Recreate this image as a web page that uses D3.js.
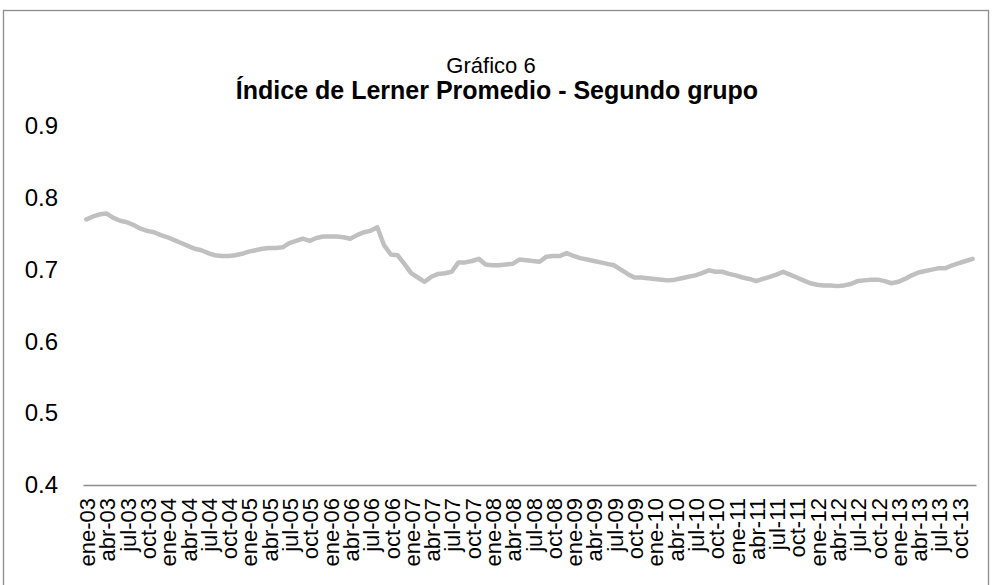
<!DOCTYPE html>
<html>
<head>
<meta charset="utf-8">
<script src="https://cdn.jsdelivr.net/npm/d3@7"></script>
<style>
  body { margin: 0; background: #fff; }
  svg { display: block; font-family: "Liberation Sans", Arial, sans-serif; }
</style>
</head>
<body>
<div id="chart"></div>
<script>
// month abbreviations and years used for the category axis
var monthNames = ["ene", "feb", "mar", "abr", "may", "jun", "jul", "ago", "sep", "oct", "nov", "dic"];
var years = ["03", "04", "05", "06", "07", "08", "09", "10", "11", "12", "13"];
var yTicks = [0.4, 0.5, 0.6, 0.7, 0.8, 0.9];

// Índice de Lerner promedio, ene-03 .. dic-13
var lerner = [
  0.770, 0.774, 0.777, 0.778, 0.772, 0.768, 0.766, 0.762, 0.757, 0.754, 0.752, 0.748,
  0.745, 0.741, 0.737, 0.733, 0.729, 0.727, 0.723, 0.720, 0.719, 0.719, 0.720, 0.722,
  0.725, 0.727, 0.729, 0.730, 0.730, 0.731, 0.737, 0.740, 0.743, 0.740, 0.744, 0.746,
  0.746, 0.746, 0.745, 0.743, 0.748, 0.752, 0.754, 0.759, 0.734, 0.721, 0.720, 0.708,
  0.695, 0.689, 0.683, 0.690, 0.694, 0.695, 0.697, 0.710, 0.710, 0.712, 0.715, 0.707,
  0.706, 0.706, 0.707, 0.708, 0.714, 0.713, 0.712, 0.711, 0.718, 0.719, 0.719, 0.723,
  0.719, 0.716, 0.714, 0.712, 0.710, 0.708, 0.706, 0.700, 0.694, 0.689, 0.689, 0.688,
  0.687, 0.686, 0.685, 0.686, 0.688, 0.690, 0.692, 0.695, 0.699, 0.697, 0.697, 0.694,
  0.692, 0.689, 0.687, 0.684, 0.687, 0.690, 0.693, 0.697, 0.693, 0.689, 0.685, 0.681,
  0.679, 0.678, 0.678, 0.677, 0.678, 0.680, 0.684, 0.685, 0.686, 0.686, 0.684, 0.681,
  0.683, 0.687, 0.692, 0.696, 0.698, 0.700, 0.702, 0.702, 0.706, 0.709, 0.712, 0.715
];

var categories = [];
years.forEach(function (yr) {
  monthNames.forEach(function (m) { categories.push(m + "-" + yr); });
});

var width = 992, height = 585;
var plot = { left: 83, right: 976, top: 126, bottom: 485 };

var svg = d3.select("#chart").append("svg")
  .attr("width", width)
  .attr("height", height);

// outer frame
svg.append("rect")
  .attr("x", 3.5).attr("y", 10.5)
  .attr("width", 985).attr("height", 600)
  .attr("fill", "none")
  .attr("stroke", "#8c8c8c")
  .attr("stroke-width", 1.3);

// titles
svg.append("text")
  .attr("x", 491).attr("y", 73)
  .attr("text-anchor", "middle")
  .attr("font-size", "22px")
  .attr("fill", "#000")
  .text("Gráfico 6");

svg.append("text")
  .attr("x", 497).attr("y", 99)
  .attr("text-anchor", "middle")
  .attr("font-size", "25px")
  .attr("font-weight", "bold")
  .attr("fill", "#000")
  .text("Índice de Lerner Promedio - Segundo grupo");

var x = d3.scaleBand()
  .domain(categories)
  .range([plot.left, plot.right]);

var y = d3.scaleLinear()
  .domain([0.4, 0.9])
  .range([plot.bottom, plot.top]);

// y axis: labels only
var yAxis = svg.append("g")
  .attr("transform", "translate(" + plot.left + ",0)")
  .call(d3.axisLeft(y).tickValues(yTicks).tickSize(0).tickPadding(25).tickFormat(d3.format(".1f")));
yAxis.select(".domain").remove();
yAxis.selectAll("text")
  .attr("font-size", "24px")
  .attr("font-family", "Liberation Sans, Arial, sans-serif")
  .attr("fill", "#000");

// x axis: every third month
var xAxis = svg.append("g")
  .attr("transform", "translate(0," + plot.bottom + ")")
  .call(d3.axisBottom(x)
    .tickValues(categories.filter(function (d, i) { return i % 3 === 0; }))
    .tickSize(0)
    .tickSizeOuter(0));
xAxis.select(".domain")
  .attr("stroke", "#8c8c8c")
  .attr("stroke-width", 1.5);
xAxis.selectAll("text")
  .attr("font-size", "22px")
  .attr("font-family", "Liberation Sans, Arial, sans-serif")
  .attr("fill", "#000")
  .attr("text-anchor", "end")
  .attr("transform", "rotate(-90)")
  .attr("x", -13)
  .attr("y", 1)
  .attr("dy", "0.35em");

// the series line
var line = d3.line()
  .x(function (d, i) { return x(categories[i]) + x.bandwidth() / 2; })
  .y(function (d) { return y(d); });

svg.append("path")
  .datum(lerner)
  .attr("d", line)
  .attr("fill", "none")
  .attr("stroke", "#c0c0c0")
  .attr("stroke-width", 4.5)
  .attr("stroke-linejoin", "round")
  .attr("stroke-linecap", "round");
</script>
</body>
</html>
